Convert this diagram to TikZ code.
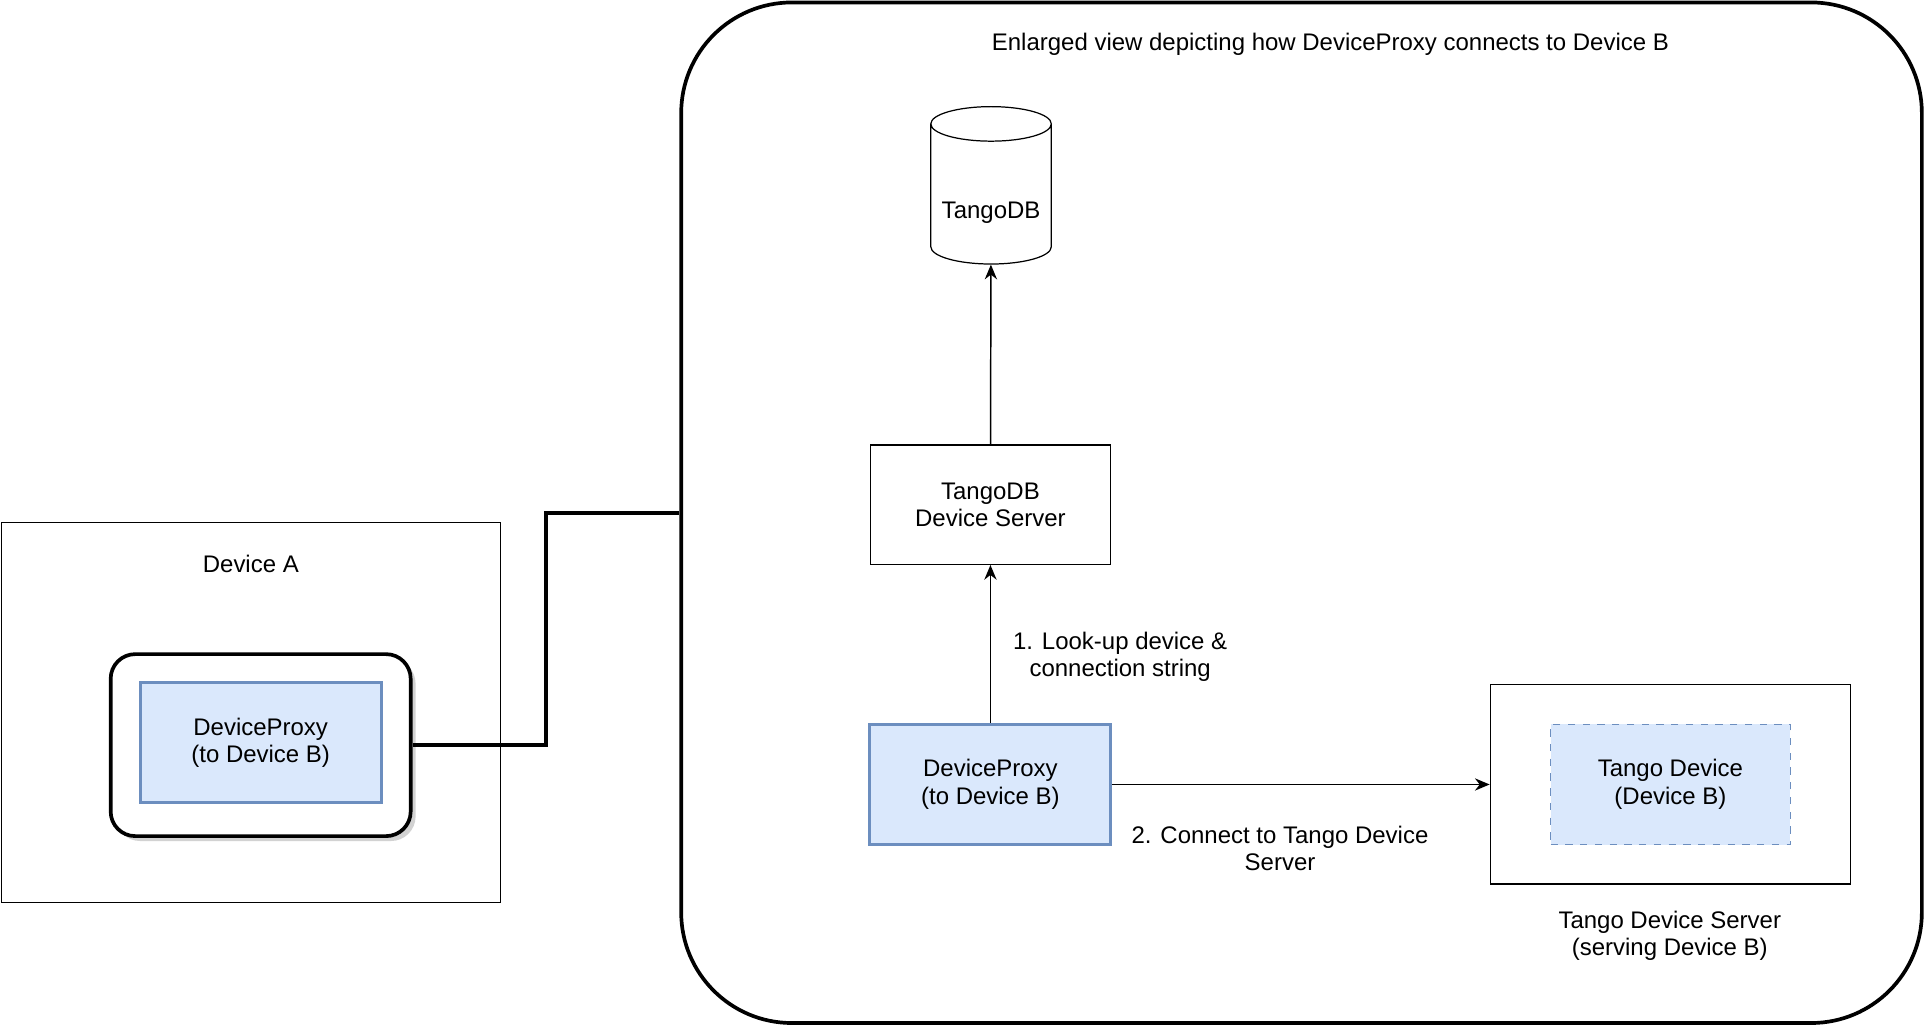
\documentclass[tikz,border=0pt]{standalone}
\usepackage{fontspec}
\setmainfont{Liberation Sans}
\usetikzlibrary{shapes.geometric,arrows.meta,shadows}
\begin{document}
\begin{tikzpicture}[x=0.5pt,y=-0.5pt,
    every node/.style={font=\fontsize{9.75}{11.2}\selectfont, align=center},
    box/.style={draw, line width=0.5pt, inner sep=0pt},
    proxy/.style={draw=proxyline, fill=proxyfill, line width=1.2pt, inner sep=0pt,
                  minimum width=98pt, minimum height=49pt},
    link/.style={-{Stealth[length=6pt,width=5pt]}, line width=0.6pt},
    txt/.style={inner sep=0pt}]
    \definecolor{proxyfill}{HTML}{DAE8FC}
    \definecolor{proxyline}{HTML}{6C8EBF}
    \useasboundingbox (0,0) rectangle (1568,838);

    % Device A
    \node [box, minimum width=203pt, minimum height=154.5pt] (deva) at (204,579.5) {};
    \node [txt] (devalabel) at (204,459) {Device A};
    \node [draw, line width=1.5pt, rounded corners=10pt, fill=white,
           minimum width=122pt, minimum height=74pt,
           drop shadow={shadow xshift=2pt, shadow yshift=-2pt, fill=black!35}] (holder) at (212,606) {};
    \node [proxy] (proxya) at (212,604) {DeviceProxy\\(to Device B)};

    % Enlarged view
    \node [draw, line width=1.5pt, rounded corners=45pt,
           minimum width=504.5pt, minimum height=415pt] (view) at (1058.5,417) {};
    \node [txt] (title) at (1082,36) {Enlarged view depicting how DeviceProxy connects to Device B};
    \draw [line width=1.5pt] (holder.east) -- (444,606) |- (view.west);

    % TangoDB
    \node [draw, line width=0.5pt, cylinder, shape border rotate=90, aspect=0.35,
           minimum width=49pt, minimum height=64pt, inner sep=0pt] (db) at (806,158)
           {\raisebox{-8pt}[4pt][0pt]{TangoDB}};
    \node [box, minimum width=97.5pt, minimum height=48.5pt] (dbserver) at (805.5,410.5) {TangoDB\\Device Server};
    \node [proxy] (proxyb) at (805.5,638) {DeviceProxy\\(to Device B)};

    % Tango Device Server
    \node [box, minimum width=146.5pt, minimum height=81pt] (server) at (1358.5,638) {};
    \node [draw=proxyline, fill=proxyfill, dashed, line width=0.5pt,
           minimum width=97.5pt, minimum height=49pt, inner sep=0pt] (device) at (1358.5,638) {Tango Device\\(Device B)};
    \node [txt] (serverlabel) at (1358,761) {Tango Device Server\\(serving Device B)};

    % Edges
    \draw [link] (proxyb) -- (dbserver);
    \node [txt] (step1) at (911,534) {1. Look-up device \&\\connection string};
    \draw [link] (dbserver) -- (db);
    \draw [link] (proxyb) -- (server.west);
    \node [txt] (step2) at (1041,690) {2. Connect to Tango Device\\Server};
\end{tikzpicture}
\end{document}
